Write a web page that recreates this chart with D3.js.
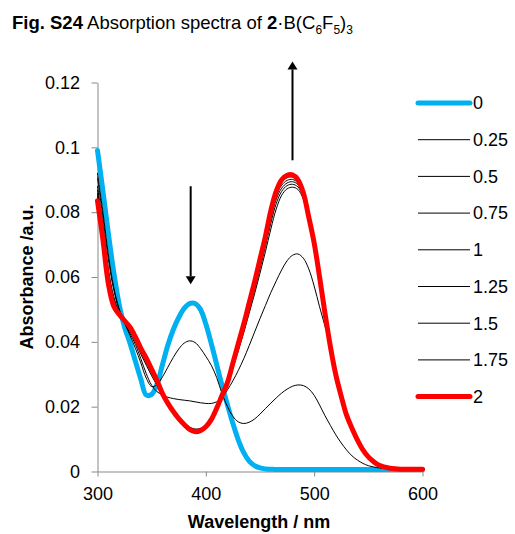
<!DOCTYPE html>
<html>
<head>
<meta charset="utf-8">
<script src="https://cdn.jsdelivr.net/npm/d3@7"></script>
<style>
  body { margin: 0; background: #fff; }
  svg text { font-family: "Liberation Sans", Arial, sans-serif; fill: #000; }
</style>
</head>
<body>
<svg id="chart" width="515" height="534"></svg>
<script>
// Wavelength grid (nm)
const wavelengths = [
  300,305,310,315,320,325,330,335,340,345,
  350,355,360,365,370,375,380,385,390,395,
  400,405,410,415,420,425,430,435,440,445,
  450,455,460,465,470,475,480,485,490,495,
  500,505,510,515,520,525,530,535,540,545,
  550,555,560,570,580,590,600
];

// Absorbance for each equivalent of B(C6F5)3 added
const eq0 = [
  0.0990,0.0865,0.0735,0.0615,0.0515,0.0445,0.0396,0.0340,0.0285,0.0236,
  0.0238,0.0270,0.0330,0.0390,0.0438,0.0475,0.0503,0.0518,0.0518,0.0500,
  0.0455,0.0395,0.0330,0.0265,0.0205,0.0148,0.0097,0.0058,0.0032,0.0018,
  0.0011,0.0008,0.0007,0.0006,0.0006,0.0006,0.0006,0.0006,0.0006,0.0006,
  0.0006,0.0006,0.0006,0.0006,0.0006,0.0006,0.0006,0.0006,0.0006,0.0006,
  0.0006,0.0006,0.0006,0.0006,0.0006,0.0006,0.0006
];
const eq025 = [
  0.0920,0.0800,0.0670,0.0568,0.0502,0.0458,0.0420,0.0380,0.0335,0.0288,
  0.0262,0.0268,0.0292,0.0322,0.0352,0.0378,0.0396,0.0403,0.0398,0.0380,
  0.0355,0.0328,0.0290,0.0240,0.0200,0.0170,0.0153,0.0148,0.0152,0.0162,
  0.0177,0.0194,0.0211,0.0227,0.0242,0.0254,0.0263,0.0267,0.0265,0.0255,
  0.0235,0.0205,0.0172,0.0142,0.0113,0.0088,0.0066,0.0048,0.0035,0.0025,
  0.0018,0.0014,0.0011,0.0008,0.0007,0.0007,0.0007
];
const eq05 = [
  0.0905,0.0785,0.0655,0.0560,0.0498,0.0458,0.0426,0.0392,0.0348,0.0302,
  0.0266,0.0246,0.0236,0.0229,0.0225,0.0222,0.0220,0.0218,0.0215,0.0212,
  0.0210,0.0210,0.0215,0.0228,0.0252,0.0280,0.0312,0.0348,0.0388,0.0430,
  0.0472,0.0512,0.0552,0.0588,0.0622,0.0650,0.0667,0.0671,0.0658,0.0625,
  0.0572,0.0508,0.0448,0.0390,0.0305,0.0238,0.0178,0.0136,0.0099,0.0069,
  0.0046,0.0031,0.0020,0.0011,0.0008,0.0007,0.0007
];
const eq075 = [
  0.0880,0.0760,0.0625,0.0540,0.0490,0.0458,0.0432,0.0400,0.0362,0.0328,
  0.0295,0.0265,0.0235,0.0208,0.0185,0.0166,0.0150,0.0137,0.0131,0.0133,
  0.0143,0.0162,0.0193,0.0230,0.0268,0.0318,0.0372,0.0428,0.0488,0.0548,
  0.0612,0.0678,0.0748,0.0810,0.0852,0.0872,0.0877,0.0870,0.0840,0.0777,
  0.0702,0.0610,0.0505,0.0400,0.0310,0.0240,0.0180,0.0138,0.0100,0.0070,
  0.0047,0.0031,0.0020,0.0011,0.0008,0.0007,0.0007
];
const eq1 = [
  0.0868,0.0748,0.0610,0.0530,0.0488,0.0461,0.0437,0.0405,0.0368,0.0335,
  0.0302,0.0270,0.0237,0.0209,0.0185,0.0165,0.0148,0.0135,0.0128,0.0130,
  0.0141,0.0161,0.0193,0.0231,0.0270,0.0323,0.0379,0.0437,0.0498,0.0560,
  0.0626,0.0694,0.0766,0.0827,0.0864,0.0882,0.0886,0.0878,0.0847,0.0781,
  0.0705,0.0612,0.0506,0.0400,0.0310,0.0240,0.0180,0.0138,0.0100,0.0070,
  0.0047,0.0031,0.0020,0.0011,0.0008,0.0007,0.0007
];
const eq125 = [
  0.0858,0.0738,0.0600,0.0522,0.0486,0.0463,0.0440,0.0409,0.0373,0.0340,
  0.0306,0.0273,0.0238,0.0209,0.0185,0.0164,0.0147,0.0133,0.0126,0.0128,
  0.0140,0.0160,0.0193,0.0232,0.0272,0.0327,0.0385,0.0444,0.0507,0.0570,
  0.0637,0.0706,0.0780,0.0840,0.0874,0.0890,0.0894,0.0885,0.0852,0.0784,
  0.0707,0.0613,0.0506,0.0400,0.0310,0.0240,0.0180,0.0138,0.0100,0.0070,
  0.0047,0.0031,0.0020,0.0011,0.0008,0.0007,0.0007
];
const eq15 = [
  0.0850,0.0730,0.0592,0.0517,0.0485,0.0464,0.0442,0.0412,0.0376,0.0344,
  0.0310,0.0276,0.0239,0.0210,0.0185,0.0164,0.0146,0.0132,0.0125,0.0127,
  0.0139,0.0160,0.0194,0.0233,0.0273,0.0330,0.0389,0.0449,0.0513,0.0577,
  0.0645,0.0715,0.0792,0.0851,0.0883,0.0898,0.0901,0.0890,0.0855,0.0785,
  0.0707,0.0613,0.0505,0.0398,0.0308,0.0238,0.0178,0.0137,0.0099,0.0069,
  0.0046,0.0031,0.0020,0.0011,0.0008,0.0007,0.0007
];
const eq175 = [
  0.0842,0.0722,0.0586,0.0513,0.0485,0.0465,0.0444,0.0414,0.0378,0.0347,
  0.0313,0.0278,0.0240,0.0210,0.0185,0.0163,0.0145,0.0131,0.0124,0.0126,
  0.0138,0.0160,0.0194,0.0234,0.0274,0.0332,0.0392,0.0452,0.0517,0.0581,
  0.0650,0.0720,0.0799,0.0858,0.0892,0.0906,0.0908,0.0895,0.0858,0.0786,
  0.0707,0.0612,0.0503,0.0395,0.0305,0.0236,0.0176,0.0135,0.0098,0.0068,
  0.0046,0.0030,0.0019,0.0011,0.0008,0.0007,0.0007
];
const eq2 = [
  0.0835,0.0715,0.0580,0.0510,0.0485,0.0465,0.0445,0.0415,0.0380,0.0350,
  0.0315,0.0280,0.0240,0.0210,0.0185,0.0163,0.0145,0.0130,0.0123,0.0126,
  0.0138,0.0160,0.0195,0.0235,0.0275,0.0335,0.0395,0.0455,0.0520,0.0585,
  0.0655,0.0725,0.0805,0.0865,0.0900,0.0914,0.0915,0.0900,0.0860,0.0785,
  0.0705,0.0600,0.0488,0.0385,0.0298,0.0232,0.0173,0.0133,0.0097,0.0067,
  0.0045,0.0030,0.0019,0.0010,0.0007,0.0007,0.0007
];

const seriesLabels = ["0","0.25","0.5","0.75","1","1.25","1.5","1.75","2"];
const seriesValues = [eq0, eq025, eq05, eq075, eq1, eq125, eq15, eq175, eq2];

const xTicks = [300, 400, 500, 600];
const yTicks = [0, 0.02, 0.04, 0.06, 0.08, 0.1, 0.12];
const yTickLabels = ["0", "0.02", "0.04", "0.06", "0.08", "0.1", "0.12"];

// Arrows: [wavelength, start absorbance, tip absorbance]
const arrowDown = [386, 0.088, 0.0578];
const arrowUp = [480, 0.096, 0.1265];

// ---- drawing ----
const svg = d3.select("#chart");
const axisColor = "#898989";

const x = d3.scaleLinear().domain([300, 600]).range([97.5, 422.5]);
const y = d3.scaleLinear().domain([0, 0.12]).range([471.5, 82.5]);

function styleFor(i) {
  if (i === 0) return { color: "#00B0F0", width: 5 };
  if (i === seriesValues.length - 1) return { color: "#FF0000", width: 5 };
  return { color: "#000", width: 1 };
}

// Title
const title = svg.append("text").attr("x", 12).attr("y", 29).style("font-size", "18.5px");
title.append("tspan").style("font-weight", "bold").text("Fig. S24");
title.append("tspan").text(" Absorption spectra of ");
title.append("tspan").style("font-weight", "bold").text("2");
title.append("tspan").text("\u00B7B(C");
title.append("tspan").attr("dy", 5).style("font-size", "12px").text("6");
title.append("tspan").attr("dy", -5).text("F");
title.append("tspan").attr("dy", 5).style("font-size", "12px").text("5");
title.append("tspan").attr("dy", -5).text(")");
title.append("tspan").attr("dy", 5).style("font-size", "12px").text("3");

// Axes
const yAxis = svg.append("g")
  .attr("transform", `translate(${x(300)},0)`)
  .call(d3.axisLeft(y).tickValues(yTicks)
    .tickFormat((d, i) => yTickLabels[i])
    .tickSize(6).tickSizeOuter(0).tickPadding(11.5));
const xAxis = svg.append("g")
  .attr("transform", `translate(0,${y(0)})`)
  .call(d3.axisBottom(x).tickValues(xTicks)
    .tickFormat(d3.format("d"))
    .tickSize(5).tickSizeOuter(0).tickPadding(11));

[yAxis, xAxis].forEach(g => {
  g.select(".domain").attr("stroke", axisColor);
  g.selectAll(".tick line").attr("stroke", axisColor);
  g.selectAll(".tick text")
    .style("font-size", "18px")
    .style("font-family", "'Liberation Sans', Arial, sans-serif")
    .attr("fill", "#000");
});

// Axis titles
svg.append("text")
  .attr("transform", "translate(33,277) rotate(-90)")
  .attr("text-anchor", "middle")
  .style("font-size", "18px").style("font-weight", "bold")
  .text("Absorbance /a.u.");
svg.append("text")
  .attr("x", 259).attr("y", 528)
  .attr("text-anchor", "middle")
  .style("font-size", "18px").style("font-weight", "bold")
  .text("Wavelength / nm");

// Spectra
const line = d3.line()
  .x(d => x(d[0]))
  .y(d => y(d[1]))
  .curve(d3.curveCatmullRom.alpha(0.5));

const order = [0, 1, 2, 3, 4, 5, 6, 7, 8];
svg.append("g").selectAll("path")
  .data(order)
  .join("path")
  .attr("d", i => line(wavelengths.map((w, k) => [w, seriesValues[i][k]])))
  .attr("fill", "none")
  .attr("stroke", i => styleFor(i).color)
  .attr("stroke-width", i => styleFor(i).width)
  .attr("stroke-linejoin", "round")
  .attr("stroke-linecap", "round");

// Arrows
function drawArrow(a) {
  const ax = x(a[0]);
  const y0 = y(a[1]);
  const y1 = y(a[2]);
  const dir = y1 > y0 ? 1 : -1;
  const headLen = 8, headHalf = 5;
  svg.append("line")
    .attr("x1", ax).attr("x2", ax)
    .attr("y1", y0).attr("y2", y1 - dir * headLen)
    .attr("stroke", "#000").attr("stroke-width", 2);
  svg.append("path")
    .attr("d", `M${ax},${y1} L${ax - headHalf},${y1 - dir * headLen} L${ax + headHalf},${y1 - dir * headLen} Z`)
    .attr("fill", "#000");
}
drawArrow(arrowDown);
drawArrow(arrowUp);

// Legend
const legend = svg.append("g");
seriesLabels.forEach((lab, i) => {
  const ly = 103 + i * 36.7;
  const st = styleFor(i);
  legend.append("line")
    .attr("x1", 418).attr("x2", 470)
    .attr("y1", ly).attr("y2", ly)
    .attr("stroke", st.color).attr("stroke-width", st.width)
    .attr("stroke-linecap", st.width > 1 ? "round" : "butt");
  legend.append("text")
    .attr("x", 473).attr("y", ly)
    .attr("dy", "0.35em")
    .style("font-size", "18px")
    .text(lab);
});
</script>
</body>
</html>
